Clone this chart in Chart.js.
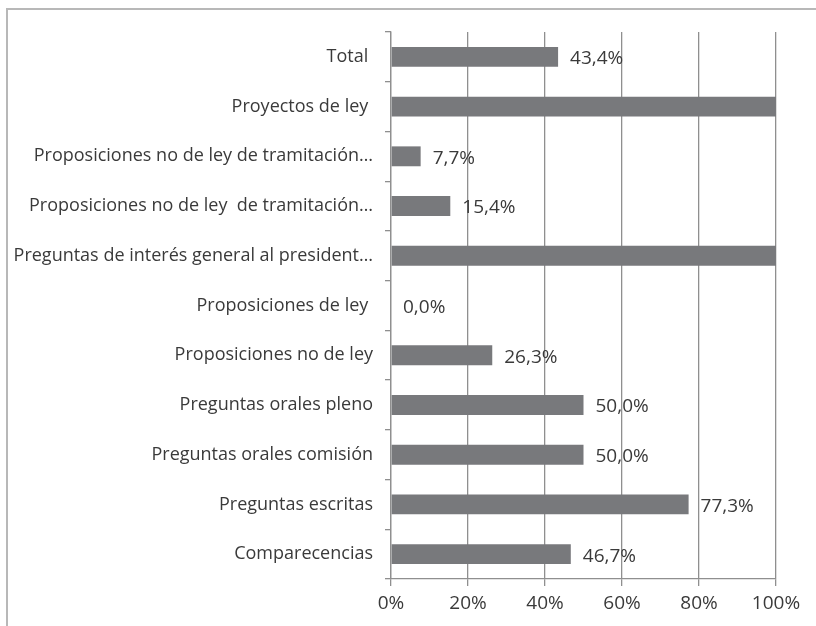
<!DOCTYPE html>
<html>
<head>
<meta charset="utf-8">
<script src="https://cdn.jsdelivr.net/npm/chart.js@4/dist/chart.umd.min.js"></script>
<style>
  html, body { margin: 0; padding: 0; background: #fff; overflow: hidden; }
  #wrap { position: relative; width: 816px; height: 626px; }
  #frame { position: absolute; left: 6px; top: 8px; width: 900px; height: 700px; border: 2px solid #b8b8b8; }
  canvas { position: absolute; left: 0; top: 0; }
</style>
</head>
<body>
<div id="wrap">
  <div id="frame"></div>
  <canvas id="chart" width="816" height="626"></canvas>
</div>
<script>
const categorias = [
    'Total ',
    'Proyectos de ley ',
    'Proposiciones no de ley de tramitación…',
    'Proposiciones no de ley  de tramitación…',
    'Preguntas de interés general al president…',
    'Proposiciones de ley ',
    'Proposiciones no de ley',
    'Preguntas orales pleno',
    'Preguntas orales comisión',
    'Preguntas escritas',
    'Comparecencias'
];
const valores = [43.4, 100, 7.7, 15.4, 100, 0, 26.3, 50, 50, 77.3, 46.7];
const ticksX = [0, 20, 40, 60, 80, 100];

const fonte = '"Open Sans", sans-serif';
const cinza = '#78797c';

// rótulos de dados, estilo Excel (vírgula decimal)
const rotulos = {
    id: 'rotulos',
    afterDatasetsDraw(chart) {
        const ctx = chart.ctx;
        const meta = chart.getDatasetMeta(0);
        ctx.save();
        ctx.font = '19px ' + fonte;
        ctx.fillStyle = '#3a3a3a';
        ctx.textBaseline = 'middle';
        meta.data.forEach(function (bar, i) {
            const txt = valores[i].toFixed(1).replace('.', ',') + '%';
            const x = bar.x + 12;
            if (x + 30 > chart.chartArea.right) return;
            ctx.fillText(txt, x, bar.y + 2);
        });
        ctx.restore();
    }
};

new Chart(document.getElementById('chart').getContext('2d'), {
    type: 'bar',
    data: {
        labels: categorias,
        datasets: [{
            data: valores,
            backgroundColor: cinza,
            borderWidth: 0,
            categoryPercentage: 1,
            barPercentage: 0.4
        }]
    },
    options: {
        indexAxis: 'y',
        responsive: false,
        animation: false,
        layout: { padding: { top: 32, right: 40, bottom: 8, left: 0 } },
        plugins: { legend: { display: false }, tooltip: { enabled: false } },
        scales: {
            x: {
                min: 0,
                max: 100,
                afterBuildTicks(axis) { axis.ticks = ticksX.map(v => ({ value: v })); },
                afterFit(axis) { axis.height = 39; },
                ticks: {
                    callback: v => v + '%',
                    color: '#3a3a3a',
                    font: { family: fonte, size: 19 },
                    padding: 6
                },
                grid: { color: '#8f8f8f', lineWidth: 1.3, tickLength: 7 },
                border: { color: '#8f8f8f', width: 1.3 }
            },
            y: {
                afterFit(axis) { axis.width = 391; },
                ticks: {
                    color: '#3a3a3a',
                    font: { family: fonte, size: 18 },
                    padding: 12,
                    autoSkip: false
                },
                grid: { drawOnChartArea: false, color: '#8f8f8f', lineWidth: 1.3, tickLength: 6, offset: true },
                border: { color: '#8f8f8f', width: 1.3 }
            }
        }
    },
    plugins: [rotulos]
});
</script>
</body>
</html>
